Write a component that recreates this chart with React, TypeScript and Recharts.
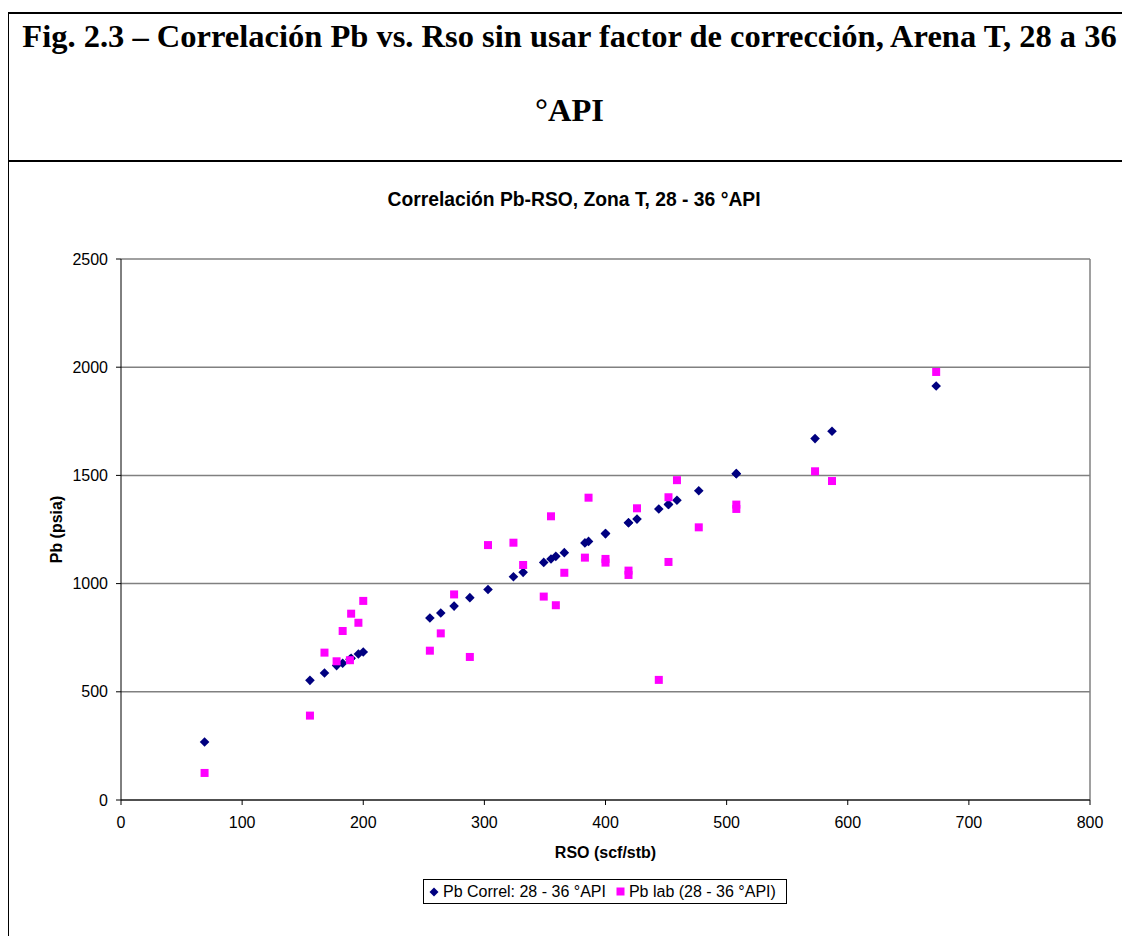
import React from "react";
import {
  ScatterChart,
  Scatter,
  XAxis,
  YAxis,
  CartesianGrid,
  ReferenceLine,
  Legend,
  Label,
} from "recharts";

// ---- data ----
const rso = [
  69, 156, 168, 178, 183, 189, 190, 196, 200, 255, 264, 275, 288, 303, 324, 332,
  349, 355, 359, 366, 383, 386, 400, 400, 419, 419, 426, 444, 452, 452, 459, 477,
  508, 508, 573, 587, 673,
];
const pbCorrel = [
  268, 553, 587, 621, 632, 650, 655, 675, 684, 841, 864, 896, 935, 973, 1032, 1052,
  1098, 1114, 1126, 1143, 1188, 1195, 1231, 1231, 1281, 1281, 1298, 1345, 1366, 1366,
  1385, 1429, 1508, 1508, 1670, 1704, 1913,
];
const pbLab = [
  125, 390, 681, 641, 781, 646, 861, 819, 920, 690, 770, 950, 661, 1178, 1189, 1086,
  940, 1311, 900, 1050, 1120, 1397, 1114, 1097, 1060, 1040, 1348, 555, 1399, 1100,
  1478, 1260, 1365, 1345, 1519, 1474, 1978,
];
const xTicks = [0, 100, 200, 300, 400, 500, 600, 700, 800];
const yTicks = [0, 500, 1000, 1500, 2000, 2500];

const figTitleLine1 =
  "Fig. 2.3 – Correlación Pb vs. Rso sin usar factor de corrección, Arena T, 28 a 36";
const figTitleLine2 = "°API";
const chartTitle = "Correlación Pb-RSO, Zona T, 28 - 36 °API";
const xLabel = "RSO (scf/stb)";
const yLabel = "Pb (psia)";
const seriesCorrelName = "Pb Correl: 28 - 36 °API";
const seriesLabName = "Pb lab (28 - 36 °API)";

const correlData = rso.map((r, i) => ({ x: r, y: pbCorrel[i] }));
const labData = rso.map((r, i) => ({ x: r, y: pbLab[i] }));

const SANS = "'Liberation Sans', Arial, sans-serif";
const SERIF = "'Liberation Serif', 'Times New Roman', serif";
const NAVY = "#000080";
const MAGENTA = "#FF00FF";

const DiamondShape = (props: any) => {
  const { cx, cy } = props;
  if (cx == null || cy == null) return null;
  const r = 4.8;
  return (
    <polygon
      points={`${cx},${cy - r} ${cx + r},${cy} ${cx},${cy + r} ${cx - r},${cy}`}
      fill={NAVY}
    />
  );
};

const SquareShape = (props: any) => {
  const { cx, cy } = props;
  if (cx == null || cy == null) return null;
  const h = 4;
  return <rect x={cx - h} y={cy - h} width={2 * h} height={2 * h} fill={MAGENTA} />;
};

const LegendContent = () => (
  <div
    style={{
      border: "1px solid #000",
      background: "#fff",
      display: "flex",
      alignItems: "center",
      height: 25,
      boxSizing: "border-box",
      padding: "0 6px 0 5px",
      fontFamily: SANS,
      fontSize: 16,
      color: "#000",
      whiteSpace: "nowrap",
    }}
  >
    <svg width={10} height={10} style={{ display: "block" }}>
      <polygon points="5,0.5 9.5,5 5,9.5 0.5,5" fill={NAVY} />
    </svg>
    <span style={{ marginLeft: 4 }}>{seriesCorrelName}</span>
    <svg width={9} height={9} style={{ display: "block", marginLeft: 10 }}>
      <rect x={0.5} y={0.5} width={8} height={8} fill={MAGENTA} />
    </svg>
    <span style={{ marginLeft: 4 }}>{seriesLabName}</span>
  </div>
);

export default function App() {
  return (
    <div
      style={{
        position: "relative",
        width: 1130,
        height: 944,
        margin: -8,
        overflow: "hidden",
        background: "#fff",
      }}
    >
      {/* frame lines */}
      <div style={{ position: "absolute", left: 7, top: 12, width: 1123, height: 2, background: "#000" }} />
      <div style={{ position: "absolute", left: 7, top: 160, width: 1123, height: 2, background: "#000" }} />
      <div style={{ position: "absolute", left: 7, top: 12, width: 2, height: 932, background: "#000" }} />

      {/* figure caption */}
      <div
        style={{
          position: "absolute",
          left: 9,
          top: 0,
          width: 1121,
          textAlign: "center",
          fontFamily: SERIF,
          fontWeight: "bold",
          fontSize: 32.5,
          lineHeight: "33px",
          color: "#000",
        }}
      >
        <div style={{ position: "absolute", top: 20, width: "100%", whiteSpace: "nowrap" }}>{figTitleLine1}</div>
        <div style={{ position: "absolute", top: 94, width: "100%" }}>{figTitleLine2}</div>
      </div>

      {/* chart title */}
      <div
        style={{
          position: "absolute",
          left: 0,
          top: 189,
          width: 1148,
          textAlign: "center",
          fontFamily: SANS,
          fontWeight: "bold",
          fontSize: 19.3,
          lineHeight: "22px",
          color: "#000",
          whiteSpace: "nowrap",
        }}
      >
        {chartTitle}
      </div>

      <div style={{ position: "absolute", left: 0, top: 0 }}>
        <ScatterChart
          width={1130}
          height={944}
          margin={{ top: 259, right: 40, bottom: 84, left: 61 }}
          style={{ fontFamily: SANS }}
        >
          <CartesianGrid vertical={false} stroke="#808080" strokeWidth={1.5} />
          <XAxis
            type="number"
            dataKey="x"
            domain={[0, 800]}
            ticks={xTicks}
            interval={0}
            height={60}
            axisLine={{ stroke: "#000" }}
            tickLine={{ stroke: "#000" }}
            tickSize={5}
            tickMargin={12}
            tick={{ fill: "#000", fontSize: 16, fontFamily: SANS }}
          >
            <Label
              content={(props: any) => {
                const vb = props.viewBox || { x: 121, y: 800, width: 969, height: 60 };
                return (
                  <text
                    x={vb.x + vb.width / 2}
                    y={vb.y + 58}
                    textAnchor="middle"
                    fontFamily={SANS}
                    fontWeight="bold"
                    fontSize={16}
                    fill="#000"
                  >
                    {xLabel}
                  </text>
                );
              }}
            />
          </XAxis>
          <YAxis
            type="number"
            dataKey="y"
            domain={[0, 2500]}
            ticks={yTicks}
            interval={0}
            width={60}
            axisLine={{ stroke: "#000" }}
            tickLine={{ stroke: "#000" }}
            tickSize={5}
            tickMargin={8}
            tick={{ fill: "#000", fontSize: 16, fontFamily: SANS }}
          >
            <Label
              content={(props: any) => {
                const vb = props.viewBox || { x: 61, y: 259, width: 60, height: 541 };
                const cx = vb.x - 5;
                const cy = vb.y + vb.height / 2;
                return (
                  <text
                    x={cx}
                    y={cy}
                    transform={`rotate(-90 ${cx} ${cy})`}
                    textAnchor="middle"
                    dominantBaseline="central"
                    fontFamily={SANS}
                    fontWeight="bold"
                    fontSize={16}
                    fill="#000"
                  >
                    {yLabel}
                  </text>
                );
              }}
            />
          </YAxis>
          <ReferenceLine x={800} stroke="#808080" strokeWidth={1.5} />
          <Legend
            layout="horizontal"
            verticalAlign="middle"
            align="center"
            content={() => <LegendContent />}
            wrapperStyle={{ left: 423, top: 879, width: 364, height: 25 }}
          />
          <Scatter
            name={seriesCorrelName}
            data={correlData}
            fill={NAVY}
            shape={DiamondShape}
            isAnimationActive={false}
          />
          <Scatter
            name={seriesLabName}
            data={labData}
            fill={MAGENTA}
            shape={SquareShape}
            isAnimationActive={false}
          />
        </ScatterChart>
      </div>
    </div>
  );
}
